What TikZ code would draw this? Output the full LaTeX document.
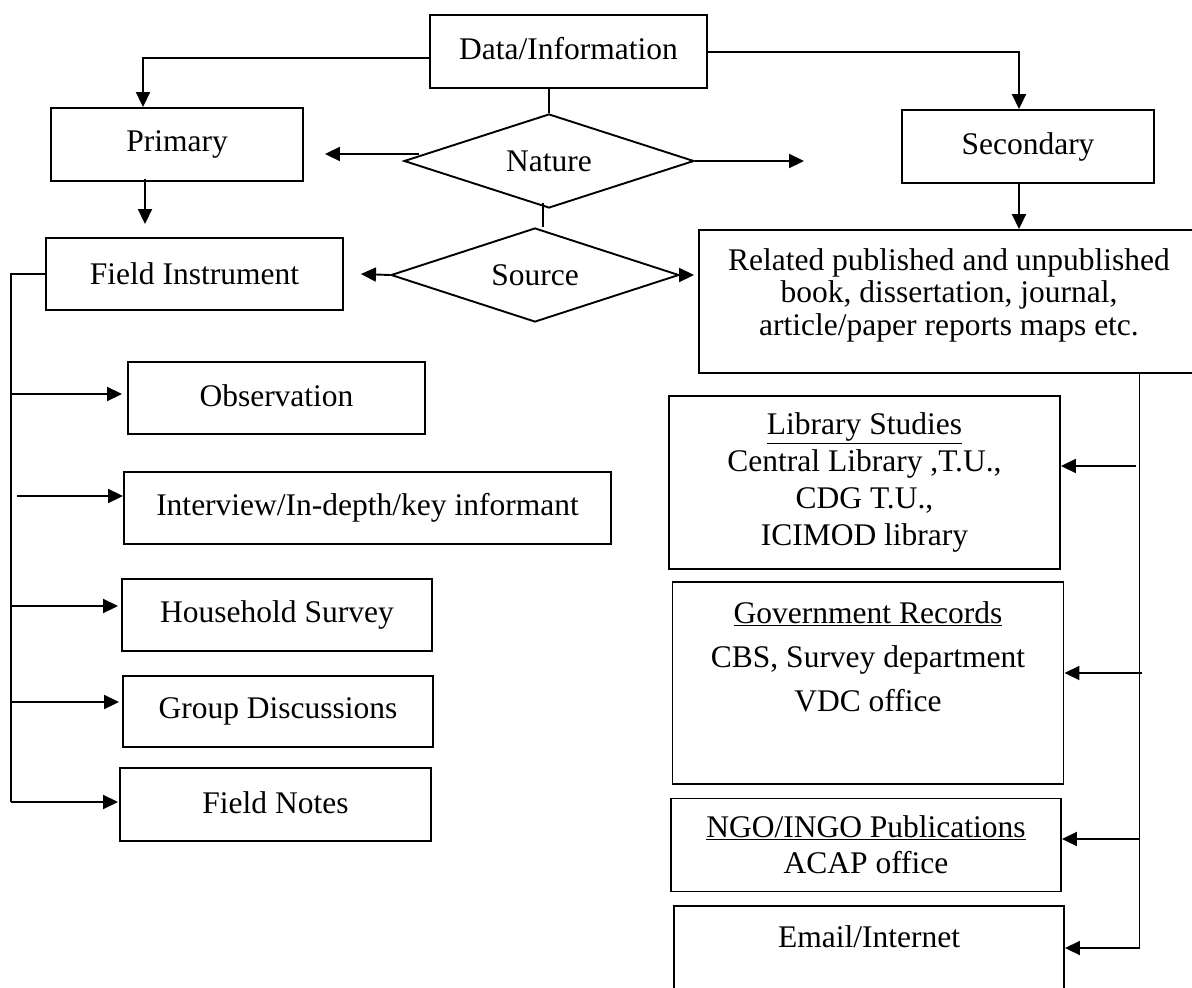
\documentclass[tikz,border=0pt]{standalone}
\usepackage{fontspec}
\setmainfont{Liberation Serif}
\usetikzlibrary{arrows.meta,shapes.geometric,calc}
\begin{document}
\begin{tikzpicture}[x=1pt,y=-1pt, line width=1.9pt,
  box/.style={draw, rectangle, inner sep=0pt, align=center, font=\fontsize{31.5}{33}\selectfont},
  dia/.style={draw, diamond, aspect=3, inner sep=0pt, minimum width=290pt, minimum height=94pt, font=\fontsize{31.5}{33}\selectfont},
  txt/.style={inner sep=0pt, align=center},
  arr/.style={-{Triangle[length=15pt,width=14pt]}}]
\useasboundingbox (0,0) rectangle (1192,988);

% top
\node[box, minimum width=277pt, minimum height=73pt] (data) at (568.5,51.5) {\raisebox{6pt}{Data/Information}};
\node[box, minimum width=252pt, minimum height=73pt] (primary) at (177,144.5) {Primary};
\node[box, minimum width=252pt, minimum height=73pt] (secondary) at (1028,146.5) {Secondary};
\node[dia] (nature) at (549,161) {Nature};
\node[dia, minimum width=288pt] (source) at (535,275) {Source};
\node[box, minimum width=297pt, minimum height=72pt] (field) at (194.5,274) {Field Instrument};
\node[box, minimum width=501pt, minimum height=143pt] (related) at (949.5,301.5) {};
\node[txt, font=\fontsize{31.5}{32.5}\selectfont] (reltext) at (949,295) {Related published and unpublished\\book, dissertation, journal,\\article/paper reports maps etc.};

% left column
\node[box, minimum width=297pt, minimum height=72pt] (obs) at (276.5,398) {\raisebox{5pt}{Observation}};
\node[box, minimum width=487pt, minimum height=72pt] (interview) at (367.5,508) {\raisebox{2pt}{Interview/In-depth/key informant}};
\node[box, minimum width=310pt, minimum height=72pt] (household) at (277,615) {Household Survey};
\node[box, minimum width=310pt, minimum height=71pt] (group) at (278,711.5) {Group Discussions};
\node[box, minimum width=311pt, minimum height=73pt] (notes) at (275.5,804.5) {\raisebox{4pt}{Field Notes}};

% right column
\node[box, minimum width=391pt, minimum height=173pt, font=\fontsize{31.5}{37}\selectfont] (lib) at (864.5,482.5) {\underline{Library Studies}\\Central Library ,T.U.,\\CDG T.U.,\\ICIMOD library};
\node[box, minimum width=391pt, minimum height=202pt] (gov) at (868,683) {};
\node[txt, font=\fontsize{31.5}{44}\selectfont] (govtext) at (868,657) {\underline{Government Records}\\CBS, Survey department\\VDC office};
\node[box, minimum width=390pt, minimum height=93pt, font=\fontsize{31.5}{36}\selectfont] (ngo) at (866,845) {\underline{NGO/INGO Publications}\\ACAP office};
\node[box, minimum width=390pt, minimum height=104pt] (email) at (869,958) {};
\node[txt, font=\fontsize{31.5}{33}\selectfont] (emailtext) at (869,937) {Email/Internet};

% connectors top
\draw[arr] ($(data.west)+(0,6.5)$) -| ($(primary.north)+(-34,0)$);
\draw[arr] ($(data.east)+(0,0.5)$) -| ($(secondary.north)+(-9,0)$);
\draw (nature.north |- data.south) -- (nature.north);
\draw[arr] ($(nature.west)+(16,-7)$) -- ($(primary.east)+(21,9.5)$);
\draw[arr] (nature.east) -- ($(secondary.west)+(-97,14.5)$);
\draw[arr] ($(primary.south)+(-32,-3)$) -- ($(field.north)+(-49.5,-13)$);
\draw ($(nature.south)+(-6,-6)$) -- ($(source.north)+(8,0)$);
\draw[arr] (source.west) -- ($(field.east)+(17,0)$);
\draw[arr] (source.east) -- ($(source.east -| related.west)+(-4,0)$);
\coordinate (s1) at ($(secondary.south)+(-9,0)$);
\draw[arr] (s1) -- (s1 |- related.north);

% left bus
\coordinate (btop) at (11,274);
\coordinate (bbot) at (11,802);
\draw (field.west) -- (btop) -- (bbot);
\coordinate (b1) at (11,394);
\coordinate (b2) at (17,496);
\coordinate (b3) at (11,606);
\coordinate (b4) at (11,702);
\draw[arr] (b1) -- ($(b1 -| obs.west)+(-5,0)$);
\draw[arr] (b2) -- (b2 -| interview.west);
\draw[arr] (b3) -- ($(b3 -| household.west)+(-3,0)$);
\draw[arr] (b4) -- ($(b4 -| group.west)+(-3,0)$);
\draw[arr] (bbot) -- ($(bbot -| notes.west)+(-1,0)$);

% right bus
\coordinate (r0) at (1139.5,373);
\coordinate (r4) at (1139.5,948);
\draw (r0) -- (r4);
\coordinate (r1) at (1136,466);
\coordinate (r2) at (1142,673);
\coordinate (r3) at (1139.5,839);
\draw[arr] (r1) -- (r1 -| lib.east);
\draw[arr] (r2) -- (r2 -| gov.east);
\draw[arr] (r3) -- (r3 -| ngo.east);
\draw[arr] (r4) -- (r4 -| email.east);
\end{tikzpicture}
\end{document}
